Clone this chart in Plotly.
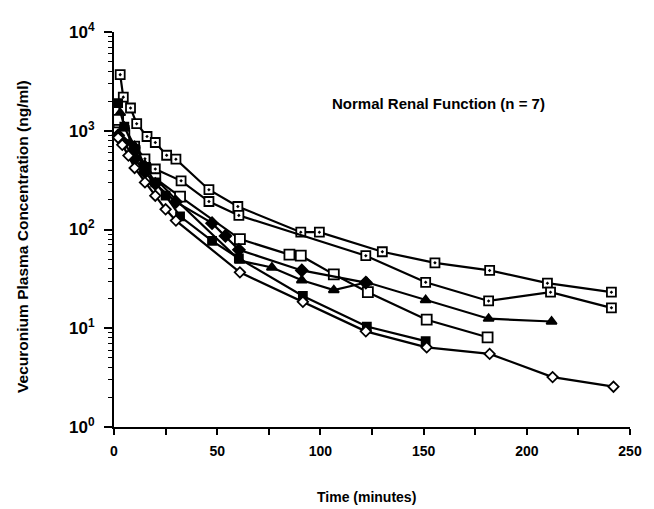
import plotly.graph_objects as go

# Series (time in minutes, concentration in ng/ml)
A_t = [3, 4.5, 8, 11, 16, 20, 25.5, 30, 46, 60, 90.5, 99.5, 130, 155.5, 182, 210, 241]
A_v = [3700, 2190, 1700, 1180, 875, 760, 565, 515, 253, 171, 94, 94, 59.5, 46, 38.5, 28.6, 23.2]

B_t = [2, 5, 10, 15, 20, 32.5, 46, 60.5, 122, 151, 181.5, 211.5, 241]
B_v = [1200, 1000, 700, 520, 410, 311, 192, 139, 54.3, 29.2, 18.9, 23.2, 16.1]

C_t = [3, 5, 10, 15, 20, 30, 61, 76.5, 91, 106.5, 122.5, 151, 181.5, 212]
C_v = [1515, 1100, 700, 450, 330, 200, 48.4, 41.2, 30.6, 24.3, 29.2, 19.3, 12.5, 11.7]

D_t = [2, 5, 10, 15, 20, 32, 61, 85, 90.5, 106.5, 123, 151.5, 181]
D_v = [1290, 900, 620, 420, 330, 215, 80, 55.6, 54.3, 35.1, 23.2, 12.2, 8.1]

E_t = [2, 5, 10, 15, 20, 30, 47.5, 54, 60.5, 91, 122]
E_v = [900, 750, 520, 380, 290, 190, 116, 86, 62.3, 38.5, 29]

F_t = [2, 5, 10, 15, 20, 25, 32, 47.5, 60.5, 91.5, 122.5, 151]
F_v = [1900, 1100, 650, 430, 300, 220, 136, 76.6, 51, 21.2, 10.4, 7.4]

G_t = [2, 4, 7, 10, 15, 20, 25, 30, 61, 91.5, 122, 151.5, 182, 212.5, 242]
G_v = [850, 720, 560, 420, 300, 220, 160, 123, 36.8, 18.5, 9.3, 6.4, 5.5, 3.2, 2.56]

x_ticks = [0, 50, 100, 150, 200, 250]
y_tickvals = [1, 10, 100, 1000, 10000]
y_ticktext = ["<b>10<sup>0</sup></b>", "<b>10<sup>1</sup></b>", "<b>10<sup>2</sup></b>",
              "<b>10<sup>3</sup></b>", "<b>10<sup>4</sup></b>"]

# (times, values, symbol, size, fill)
series = [
    (A_t, A_v, "square-dot", 9, "white"),
    (B_t, B_v, "square-dot", 9, "white"),
    (C_t, C_v, "triangle-up", 9, "black"),
    (D_t, D_v, "square", 10, "white"),
    (E_t, E_v, "diamond", 9, "black"),
    (F_t, F_v, "square", 8, "black"),
    (G_t, G_v, "diamond", 8, "white"),
]

fig = go.Figure()
for t, v, sym, sz, fill in series:
    fig.add_trace(go.Scatter(
        x=t, y=v, mode="lines+markers",
        line=dict(color="black", width=2.2),
        marker=dict(symbol=sym, size=sz, color=fill,
                    line=dict(color="black", width=1.8)),
        cliponaxis=False, showlegend=False))

FONT = "Liberation Sans, Arial, Helvetica, sans-serif"

# page body has an 8px margin, so the figure is sized/placed to compensate
fig.update_layout(
    width=646, height=501,
    margin=dict(l=105.5, r=17, t=17.7, b=82),
    paper_bgcolor="white", plot_bgcolor="white",
    font=dict(family=FONT, color="black", size=13),
    xaxis=dict(range=[0, 250], tickmode="array", tickvals=x_ticks,
               ticktext=["<b>%d</b>" % v for v in x_ticks],
               showline=True, linecolor="black", linewidth=2,
               ticks="outside", ticklen=6, tickwidth=1.5, tickcolor="black",
               minor=dict(dtick=25, ticks="outside", ticklen=6, tickwidth=1.5, tickcolor="black"),
               showgrid=False, zeroline=False, tickfont=dict(size=14),
               ticklabelstandoff=4),
    yaxis=dict(type="log", range=[0, 4], tickmode="array", tickvals=y_tickvals,
               ticktext=y_ticktext,
               showline=True, linecolor="black", linewidth=2,
               ticks="outside", ticklen=8, tickwidth=1.5, tickcolor="black",
               minor=dict(dtick="D1", ticks="outside", ticklen=4, tickwidth=1, tickcolor="black"),
               showgrid=False, zeroline=False, tickfont=dict(size=17),
               ticklabelstandoff=6),
    shapes=[
        dict(type="line", xref="paper", yref="paper", x0=-0.017, x1=0, y0=0, y1=0,
             line=dict(color="black", width=2)),
        dict(type="line", xref="paper", yref="paper", x0=0, x1=0, y0=0, y1=-0.02,
             line=dict(color="black", width=2)),
    ],
    annotations=[
        dict(text="<b>Normal Renal Function (n = 7)</b>", x=157, y=3.28, xref="x", yref="y",
             showarrow=False, font=dict(size=15)),
        dict(text="<b>Vecuronium Plasma Concentration (ng/ml)</b>", textangle=-90,
             x=(20 - 113.5) / 523.5, y=(427 - 233) / 401.3, xref="paper", yref="paper",
             xanchor="center", yanchor="middle", showarrow=False, font=dict(size=15.5)),
        dict(text="<b>Time (minutes)</b>", x=0.49, y=(427 - 498) / 401.3,
             xref="paper", yref="paper", xanchor="center", yanchor="middle",
             showarrow=False, font=dict(size=14)),
    ],
)

fig.write_html("out.html")
